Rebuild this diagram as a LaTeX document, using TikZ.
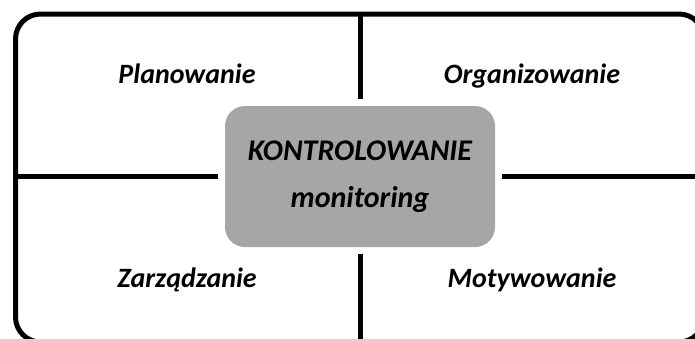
\documentclass[tikz,border=0pt]{standalone}
\usepackage{fontspec}
\setmainfont{Carlito}
\definecolor{corefill}{HTML}{A6A6A6}
\tikzset{
  frame/.style={draw=black, line width=5pt, rounded corners=25pt},
  split/.style={draw=black, line width=5pt},
  corebox/.style={fill=corefill, rounded corners=20pt, minimum width=270pt, minimum height=141pt, inner sep=0pt, align=center, font=\fontsize{30}{36}\selectfont\bfseries\itshape},
  quad/.style={font=\fontsize{28}{32}\selectfont\bfseries\itshape, inner sep=0pt, anchor=base},
}

\begin{document}
\begin{tikzpicture}[x=1pt,y=-1pt]
  \useasboundingbox (0,0) rectangle (695,338);
  \clip (0,0) rectangle (695,338);
  \draw[frame] (15.5,14) rectangle (704,342);
  \coordinate (top) at (360,14);
  \coordinate (bot) at (360,342);
  \coordinate (lft) at (15.5,176.5);
  \coordinate (rgt) at (704,176.5);
  \node[corebox] (core) at (360,176.5) {KONTROLOWANIE\\[11pt]monitoring};
  \draw[split, shorten >=7pt] (top) -- (core.north);
  \draw[split, shorten <=7pt] (core.south) -- (bot);
  \draw[split, shorten >=7pt] (lft) -- (core.west);
  \draw[split, shorten <=7pt] (core.east) -- (rgt);
  \node[quad] (plan) at (187,83) {Planowanie};
  \node[quad] (org) at (532,83) {Organizowanie};
  \node[quad] (zarz) at (187,287) {Zarządzanie};
  \node[quad] (moty) at (532,287) {Motywowanie};
\end{tikzpicture}
\end{document}
